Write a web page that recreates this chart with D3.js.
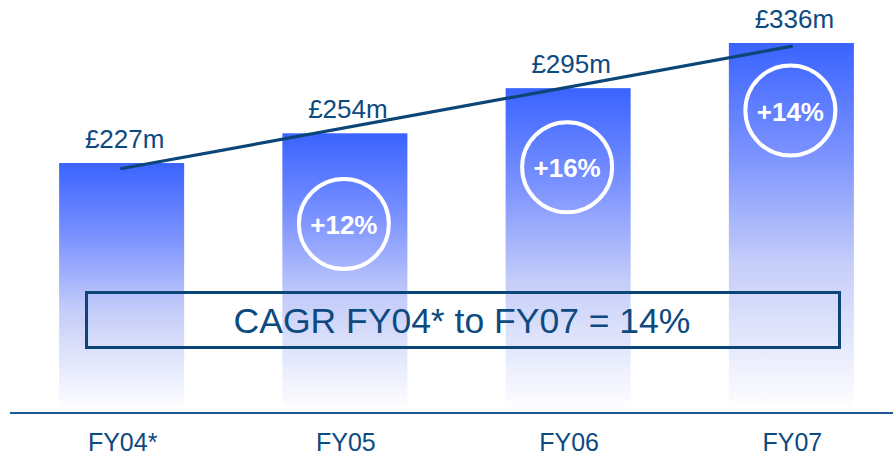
<!DOCTYPE html>
<html>
<head>
<meta charset="utf-8">
<script src="https://cdn.jsdelivr.net/npm/d3@7"></script>
<style>
  html, body { margin: 0; padding: 0; background: #ffffff; }
  svg { display: block; }
  text { font-family: Arial, "Liberation Sans", sans-serif; }
</style>
</head>
<body>
<svg id="chart" width="893" height="456"></svg>
<script>
// ---- data ----
const categories = ["FY04*", "FY05", "FY06", "FY07"];
const revenue = [227, 254, 295, 336];
const valueLabels = ["£227m", "£254m", "£295m", "£336m"];
const growthLabels = [null, "+12%", "+16%", "+14%"];
const trendValues = [222, 333];           // trend line start (FY04*) and end (FY07)
const cagrText = "CAGR FY04* to FY07 = 14%";

// ---- layout ----
const W = 893, H = 456;
const baseY = 413;
const textColor = "#0d4a80";
const lineColor = "#0b4677";

const svg = d3.select("#chart");

const x = d3.scaleBand()
  .domain(categories)
  .range([10, 903])
  .paddingInner(0.44)
  .paddingOuter(0.22);

const y = d3.scaleLinear()
  .domain([0, d3.max(revenue)])
  .range([baseY, 43]);

// gradient
const defs = svg.append("defs");
const grad = defs.append("linearGradient")
  .attr("id", "barGrad")
  .attr("x1", 0).attr("y1", 0).attr("x2", 0).attr("y2", 1);
grad.append("stop").attr("offset", "0%").attr("stop-color", "#3a63ff");
grad.append("stop").attr("offset", "30%").attr("stop-color", "#7b92ff");
grad.append("stop").attr("offset", "60%").attr("stop-color", "#c5cdf9");
grad.append("stop").attr("offset", "100%").attr("stop-color", "#ffffff");

const data = categories.map((c, i) => ({
  cat: c, value: revenue[i], label: valueLabels[i], growth: growthLabels[i], i
}));

// bars
svg.append("g").selectAll("rect")
  .data(data)
  .join("rect")
  .attr("x", d => x(d.cat))
  .attr("y", d => y(d.value))
  .attr("width", x.bandwidth())
  .attr("height", d => baseY - 3 - y(d.value))
  .attr("fill", "url(#barGrad)");

// axis baseline
svg.append("line")
  .attr("x1", 10).attr("x2", W)
  .attr("y1", baseY).attr("y2", baseY)
  .attr("stroke", "#1d5a93")
  .attr("stroke-width", 2);

// category labels
svg.append("g").selectAll("text")
  .data(data)
  .join("text")
  .attr("x", d => x(d.cat) + x.bandwidth() / 2 + 1)
  .attr("y", 451)
  .attr("text-anchor", "middle")
  .attr("font-size", 25)
  .attr("fill", textColor)
  .text(d => d.cat);

// value labels
svg.append("g").selectAll("text")
  .data(data)
  .join("text")
  .attr("x", d => x(d.cat) + x.bandwidth() / 2 + 3)
  .attr("y", d => y(d.value) - 15)
  .attr("text-anchor", "middle")
  .attr("font-size", 26)
  .attr("fill", textColor)
  .text(d => d.label);

// trend line
const first = categories[0], last = categories[categories.length - 1];
svg.append("line")
  .attr("x1", x(first) + x.bandwidth() / 2)
  .attr("y1", y(trendValues[0]))
  .attr("x2", x(last) + x.bandwidth() / 2)
  .attr("y2", y(trendValues[1]))
  .attr("stroke", lineColor)
  .attr("stroke-width", 3.2)
  .attr("stroke-linecap", "round");

// growth rings
const ringY0 = 224, ringStep = 56.75, ringR = 45;
const rings = svg.append("g").selectAll("g")
  .data(data.filter(d => d.growth))
  .join("g")
  .attr("transform", d => `translate(${x(d.cat) + x.bandwidth() / 2 - 1},${ringY0 - (d.i - 1) * ringStep})`);
rings.append("circle")
  .attr("r", ringR)
  .attr("fill", "none")
  .attr("stroke", "#ffffff")
  .attr("stroke-width", 4);
rings.append("text")
  .attr("y", 10)
  .attr("text-anchor", "middle")
  .attr("font-size", 26)
  .attr("font-weight", "bold")
  .attr("fill", "#ffffff")
  .text(d => d.growth);

// CAGR box
svg.append("rect")
  .attr("x", 86.5).attr("y", 292.5)
  .attr("width", 753).attr("height", 55)
  .attr("fill", "none")
  .attr("stroke", lineColor)
  .attr("stroke-width", 3);
svg.append("text")
  .attr("x", 462)
  .attr("y", 333)
  .attr("text-anchor", "middle")
  .attr("font-size", 35.5)
  .attr("fill", textColor)
  .text(cagrText);
</script>
</body>
</html>
